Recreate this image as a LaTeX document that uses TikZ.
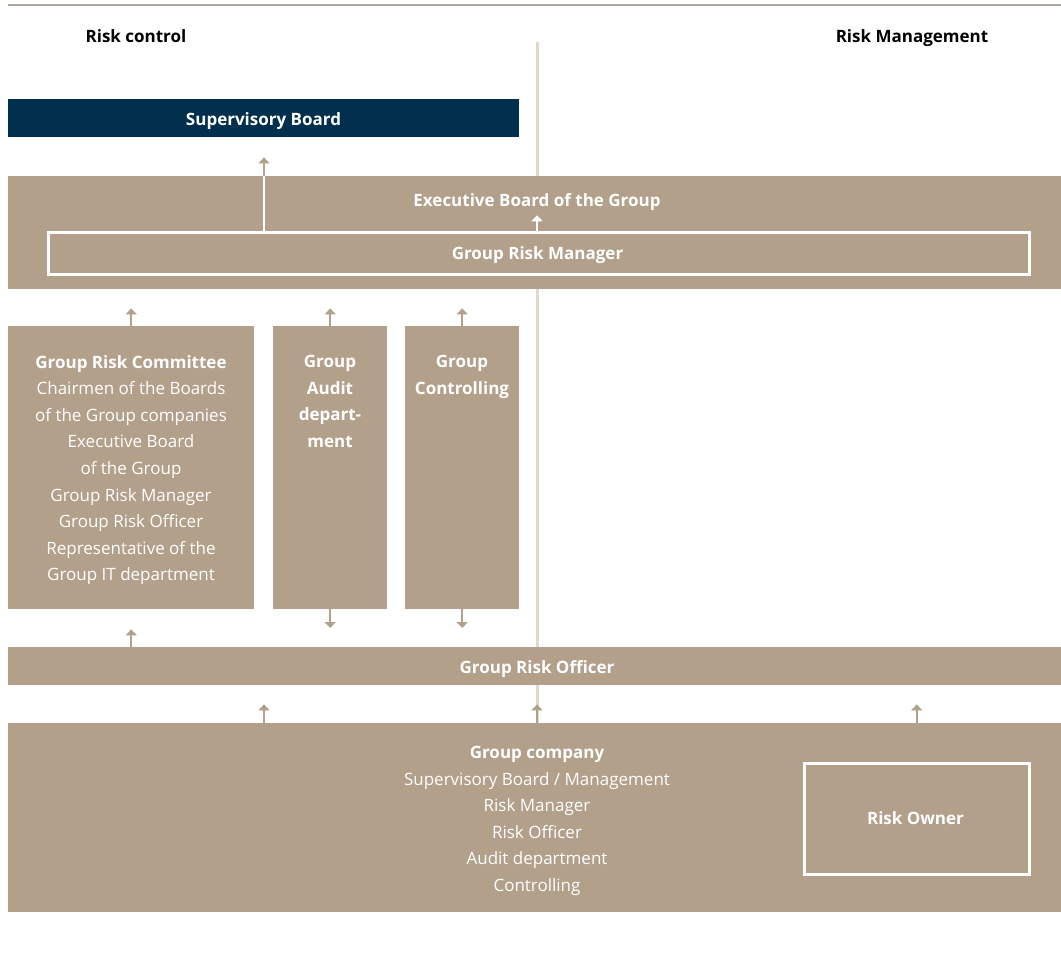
\documentclass[tikz,border=0pt]{standalone}
\usepackage{fontspec}
\setmainfont{Open Sans}
\usetikzlibrary{arrows.meta}
\definecolor{brn}{HTML}{B2A08B}
\definecolor{navy}{HTML}{00304E}
\definecolor{vline}{HTML}{E2D8C6}
\definecolor{topline}{HTML}{ABA69C}
\begin{document}
\begin{tikzpicture}[x=1pt,y=-1pt,
  box/.style={fill=brn, draw=none, inner sep=0pt, anchor=north west},
  frame/.style={draw=white, line width=2.5pt, inner sep=0pt, anchor=north west},
  txt/.style={text=white, inner sep=0pt, align=center, font=\fontsize{17}{26.6}\selectfont},
  btxt/.style={txt, font=\fontsize{17}{26.6}\selectfont\bfseries},
  head/.style={text=black, inner sep=0pt, anchor=base, font=\fontsize{17}{20}\selectfont\bfseries},
  arr/.style={draw=brn, line width=1.6pt, -{Triangle[width=11pt,length=6pt]}},
  arrw/.style={draw=white, line width=1.6pt, -{Triangle[width=11pt,length=6pt]}},
]
\useasboundingbox (0,0) rectangle (1061,966);
% lines
\draw[topline, line width=1.5pt] (8,5) -- (1061,5);
\draw[vline, line width=3pt] (537,42) -- (537,723);
% headings
\node[head] (hrc) at (136,43) {Risk control};
\node[head] (hrm) at (912,43) {Risk Management};
% supervisory board
\node[box, fill=navy, minimum width=511pt, minimum height=38pt] (sb) at (8,99) {};
\node[btxt, anchor=base] (sbt) at (263.5,125) {Supervisory Board};
% executive board
\node[box, minimum width=1053pt, minimum height=113pt] (eb) at (8,176) {};
\node[btxt, anchor=base] (ebt) at (537,206) {Executive Board of the Group};
\node[frame, minimum width=981pt, minimum height=42pt] (grm) at (47,231) {};
\node[btxt, anchor=base] (grmt) at (537.5,259) {Group Risk Manager};
% middle row
\node[box, minimum width=246pt, minimum height=283pt] (grc) at (8,326) {};
\node[box, minimum width=114pt, minimum height=283pt] (aud) at (273,326) {};
\node[box, minimum width=114pt, minimum height=283pt] (ctl) at (405,326) {};
\node[txt, anchor=north] (grct) at (131,355) {\bfseries Group Risk Committee\\Chairmen of the Boards\\of the Group companies\\Executive Board\\of the Group\\Group Risk Manager\\Group Risk Officer\\Representative of the\\Group IT department};
\node[btxt, anchor=north] (audt) at (330,355) {Group\\Audit\\depart-\\ment};
\node[btxt, anchor=north] (ctlt) at (462,355) {Group\\Controlling};
% group risk officer
\node[box, minimum width=1053pt, minimum height=38pt] (gro) at (8,647) {};
\node[btxt, anchor=base] (grot) at (537,673) {Group Risk Officer};
% group company
\node[box, minimum width=1053pt, minimum height=189pt] (gc) at (8,723) {};
\node[txt, anchor=north] (gct) at (537,746) {\bfseries Group company\\Supervisory Board / Management\\Risk Manager\\Risk Officer\\Audit department\\Controlling};
\node[frame, minimum width=225pt, minimum height=111pt] (ro) at (803,762) {};
\node[btxt, anchor=base] (rot) at (915.5,824) {Risk Owner};
% connectors
\coordinate (xa) at (264,0);
\coordinate (xm) at (537,0);
\draw[white, line width=1.6pt] (xa |- grm.north) -- (xa |- eb.north);
\draw[arr, shorten >=20pt] (xa |- eb.north) -- (xa |- sb.south);
\draw[arrw, shorten >=5pt] (xm |- grm.north) -- (xm |- ebt.south);
\draw[arr, shorten >=19pt] (grc.north) -- (grc.north |- eb.south);
\draw[arr, shorten >=19pt] (aud.north) -- (aud.north |- eb.south);
\draw[arr, shorten >=19pt] (ctl.north) -- (ctl.north |- eb.south);
\draw[arr, shorten >=19pt] (aud.south) -- (aud.south |- gro.north);
\draw[arr, shorten >=19pt] (ctl.south) -- (ctl.south |- gro.north);
\draw[arr, shorten >=20pt] (grc.south |- gro.north) -- (grc.south);
\draw[arr, shorten >=19pt] (xa |- gc.north) -- (xa |- gro.south);
\draw[arr, shorten >=19pt] (xm |- gc.north) -- (xm |- gro.south);
\draw[arr, shorten >=19pt] (ro.center |- gc.north) -- (ro.center |- gro.south);
\end{tikzpicture}
\end{document}
